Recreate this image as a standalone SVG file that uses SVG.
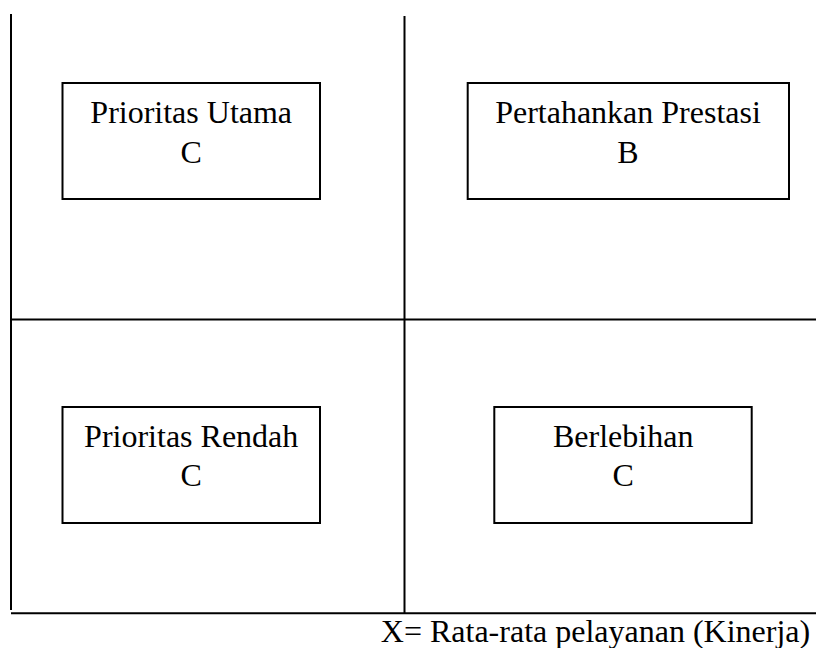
<svg xmlns="http://www.w3.org/2000/svg" width="816" height="648" viewBox="0 0 816 648">
<style>
.ln{stroke:#000;stroke-width:2;fill:none}
.bx{stroke:#000;stroke-width:2;fill:#fff}
.t{font-size:32px;fill:#000;text-anchor:middle}
</style>
<rect width="816" height="648" fill="#fff"/>
<g id="axes">
<line class="ln" x1="11" y1="14" x2="11" y2="610"/>
<line class="ln" x1="404.5" y1="16" x2="404.5" y2="613"/>
<line class="ln" x1="11" y1="319.5" x2="816" y2="319.5"/>
<line class="ln" x1="11" y1="613.3" x2="816" y2="613.3"/>
</g>
<g font-family="Liberation Serif, Times New Roman, DejaVu Serif, serif">
<g id="q1">
<rect class="bx" x="62.5" y="83" width="257.5" height="116"/>
<text class="t" x="191.2" y="123.3">Prioritas Utama</text>
<text class="t" x="191.2" y="162.7">C</text>
</g>
<g id="q2">
<rect class="bx" x="467.7" y="83" width="321.3" height="116"/>
<text class="t" x="628" y="123.3">Pertahankan Prestasi</text>
<text class="t" x="628" y="162.7">B</text>
</g>
<g id="q3">
<rect class="bx" x="62.5" y="407" width="257.5" height="116"/>
<text class="t" x="191.2" y="446.7">Prioritas Rendah</text>
<text class="t" x="191.2" y="485.7">C</text>
</g>
<g id="q4">
<rect class="bx" x="494.3" y="407" width="257.4" height="116"/>
<text class="t" x="623.2" y="446.7">Berlebihan</text>
<text class="t" x="623.2" y="485.7">C</text>
</g>
<text class="t" x="595.5" y="641.7">X= Rata-rata pelayanan (Kinerja)</text>
</g>
</svg>
